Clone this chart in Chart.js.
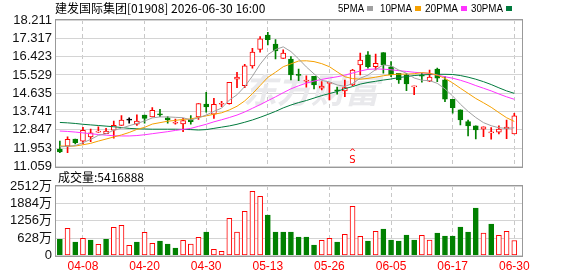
<!DOCTYPE html>
<html lang="zh-CN">
<head>
<meta charset="UTF-8">
<title>建发国际集团 日K</title>
<script src="https://cdn.jsdelivr.net/npm/chart.js@4.4.0/dist/chart.umd.min.js"></script>
<style>
  body { margin: 0; background: #fff; }
  #wrap { position: relative; width: 578px; height: 276px; }
  canvas { position: absolute; left: 0; }
</style>
</head>
<body>
<div id="wrap">
  <canvas id="kline" width="578" height="180" style="top:0"></canvas>
  <canvas id="vol" width="578" height="106" style="top:170px"></canvas>
</div>
<script>
// trading days shown
const dates = ['04-01','04-02','04-07','04-08','04-09','04-10','04-13','04-14','04-15','04-16',
  '04-17','04-20','04-21','04-22','04-23','04-24','04-27','04-28','04-29','04-30',
  '05-04','05-05','05-06','05-07','05-08','05-11','05-12','05-13','05-14','05-15',
  '05-18','05-19','05-20','05-21','05-22','05-26','05-27','05-28','05-29','06-01',
  '06-02','06-03','06-04','06-05','06-08','06-09','06-10','06-11','06-12','06-15',
  '06-16','06-17','06-18','06-22','06-23','06-24','06-25','06-26','06-29','06-30'];
const labelIdx = [3, 11, 19, 27, 35, 43, 51, 59];

const open  = [11.91,12.05,12.40,12.30,12.50,12.73,12.66,12.83,13.07,13.32,
  13.13,13.57,13.48,13.61,13.44,13.17,13.14,13.36,13.48,14.11,
  13.61,14.10,14.13,15.32,15.01,15.97,16.78,17.48,17.04,16.33,
  16.30,15.56,15.22,15.46,14.88,15.12,14.78,14.75,15.04,16.02,
  16.51,15.93,16.62,15.93,15.61,15.53,14.95,15.50,15.22,15.82,
  15.29,14.34,13.82,13.25,13.04,12.88,12.70,12.74,12.90,12.65];
const high  = [12.30,12.51,12.40,12.97,12.88,13.00,12.92,13.28,13.54,13.44,
  13.58,13.57,13.93,13.85,13.49,13.37,13.41,13.54,14.13,14.68,
  14.39,14.24,15.17,15.66,16.05,16.83,17.40,17.61,17.25,16.75,
  16.42,15.81,15.48,15.46,15.20,15.15,14.94,15.28,15.80,16.59,
  16.67,16.55,16.62,16.18,15.61,15.61,14.99,15.61,15.77,15.86,
  15.45,14.34,13.82,13.33,13.04,13.00,12.96,13.04,13.33,13.66];
const low   = [11.73,11.73,12.16,12.16,12.27,12.72,12.66,12.44,13.07,13.17,
  13.06,13.17,13.48,13.49,13.17,13.13,12.76,13.12,13.36,13.71,
  13.41,13.98,14.10,14.91,14.91,15.86,16.64,16.99,16.31,16.33,
  15.29,15.25,14.93,14.85,14.80,14.31,14.59,14.47,15.00,15.53,
  15.86,15.77,15.61,15.45,15.12,14.76,14.57,15.17,15.20,15.20,
  14.22,13.66,13.09,12.55,12.40,12.51,12.39,12.65,12.42,12.65];
const close = [11.77,12.39,12.22,12.83,12.70,12.79,12.79,13.07,13.32,13.32,
  13.28,13.41,13.80,13.58,13.33,13.20,13.30,13.25,14.13,13.97,
  14.10,14.12,15.17,15.42,15.97,16.65,17.29,17.25,16.70,16.59,
  15.53,15.50,15.26,15.04,14.99,15.15,14.75,14.91,15.77,16.26,
  15.93,16.10,16.02,15.53,15.29,15.09,14.97,15.47,15.42,15.37,
  14.34,13.93,13.33,13.04,12.84,13.00,12.72,12.88,12.98,13.53];

const ma5  = [12.02,12.04,12.08,12.22,12.38,12.58,12.66,12.83,12.93,13.05,
  13.16,13.28,13.43,13.48,13.48,13.46,13.44,13.33,13.44,13.57,
  13.75,13.91,14.30,14.56,14.96,15.47,16.05,16.52,16.77,16.90,
  16.67,16.31,15.92,15.58,15.26,15.19,15.04,14.97,15.11,15.37,
  15.52,15.79,16.02,15.97,15.77,15.61,15.38,15.27,15.25,15.12,
  14.85,14.50,14.10,13.75,13.45,13.20,13.05,12.95,12.92,12.95];
const ma10 = [12.06,12.05,12.06,12.12,12.19,12.30,12.40,12.50,12.60,12.72,
  12.87,12.97,13.13,13.20,13.27,13.31,13.36,13.38,13.46,13.53,
  13.61,13.68,13.82,14.00,14.26,14.61,15.01,15.41,15.66,15.93,
  16.07,16.21,16.22,16.18,16.08,15.93,15.68,15.44,15.35,15.32,
  15.36,15.42,15.49,15.54,15.57,15.57,15.59,15.64,15.61,15.52,
  15.36,15.14,14.88,14.63,14.38,14.17,13.95,13.69,13.44,13.26];
const ma20 = [12.79,12.77,12.74,12.70,12.66,12.62,12.59,12.56,12.55,12.55,
  12.57,12.61,12.66,12.71,12.76,12.82,12.87,12.92,13.02,13.12,
  13.24,13.34,13.45,13.57,13.72,13.90,14.08,14.27,14.46,14.66,
  14.85,15.00,15.13,15.23,15.31,15.38,15.44,15.52,15.62,15.72,
  15.80,15.82,15.81,15.78,15.74,15.70,15.66,15.63,15.60,15.52,
  15.44,15.37,15.27,15.15,15.01,14.88,14.75,14.60,14.46,14.34];
const ma30 = [13.21,13.19,13.16,13.12,13.09,13.06,13.03,13.00,12.96,12.92,
  12.90,12.89,12.88,12.88,12.88,12.88,12.87,12.86,12.84,12.86,
  12.92,12.98,13.04,13.12,13.22,13.33,13.46,13.60,13.75,13.92,
  14.06,14.18,14.28,14.40,14.52,14.62,14.72,14.86,14.96,15.08,
  15.16,15.22,15.28,15.33,15.40,15.45,15.50,15.53,15.55,15.56,
  15.56,15.55,15.50,15.42,15.32,15.20,15.06,14.90,14.75,14.63];

// volume in 万 shares, and whether the bar is drawn red (1) or green (0)
const volume = [586,983,488,622,560,405,586,1019,1092,369,
  488,839,441,524,416,271,549,416,658,850,
  224,152,1345,850,1598,2321,2140,1464,850,850,
  850,669,669,380,549,622,488,766,1779,694,
  524,875,958,560,524,741,560,730,560,813,
  705,705,1030,850,1717,813,1139,730,875,541.6888];
const volUp = [0,1,0,1,0,1,0,1,1,1, 0,1,1,0,0,0,1,1,1,0,
  1,1,1,1,1,1,1,0,0,0, 0,0,0,0,1,1,0,1,1,1,
  0,1,0,0,0,0,0,1,1,0, 0,0,0,0,0,1,0,1,1,1];

const priceTicks = [11.059,11.953,12.847,13.741,14.635,15.529,16.423,17.317,18.211];
const volTicks = [0,628,1256,1884,2512];
const maNames = ['5PMA','10PMA','20PMA','30PMA'];
const maColors = ['#a0a0a0','#f5a000','#ff33ff','#007a3d'];
const markIdx = 38;

const RED = '#ff0000', GREEN = '#008000';

function candleColor(i) {
  if (close[i] > open[i]) return RED;
  if (close[i] < open[i]) return GREEN;
  if (i > 0 && close[i] > close[i - 1]) return RED;
  if (i > 0 && close[i] < close[i - 1]) return GREEN;
  return '#000';
}

const frame = {
  id: 'frame',
  afterDraw(chart) {
    const { ctx, chartArea: a } = chart;
    ctx.save();
    ctx.strokeStyle = '#999';
    ctx.lineWidth = 1;
    ctx.strokeRect(Math.round(a.left) - 0.5, Math.round(a.top) - 0.5,
      Math.round(a.right - a.left) + 1, Math.round(a.bottom - a.top) + 1);
    ctx.restore();
  }
};

const klineText = {
  id: 'klineText',
  beforeDatasetsDraw(chart) {
    const ctx = chart.ctx;
    ctx.save();
    ctx.fillStyle = '#e9e9ec';
    ctx.font = 'italic bold 34px "Noto Sans CJK SC"';
    ctx.textBaseline = 'middle';
    ctx.fillText('东方财富', 243, 90);
    ctx.restore();
  },
  afterDraw(chart) {
    const ctx = chart.ctx;
    ctx.save();
    ctx.textBaseline = 'middle';
    ctx.fillStyle = '#000';
    ctx.font = '12px "Noto Sans CJK SC"';
    ctx.fillText('建发国际集团[01908] 2026-06-30 16:00', 55, 8);
    // legend: text start and colour square positions
    const lx = [338, 380, 425, 471];
    const sx = [367, 415, 461, 506];
    ctx.font = '11px "Liberation Sans"';
    maNames.forEach((n, k) => {
      ctx.fillStyle = '#000';
      ctx.fillText(n, lx[k], 9, sx[k] - lx[k] - 3);
      ctx.fillStyle = maColors[k];
      ctx.fillRect(sx[k], 6, 6, 5);
    });
    // red marker under a candle
    const x = chart.scales.x.getPixelForValue(markIdx);
    ctx.fillStyle = RED;
    ctx.textAlign = 'center';
    ctx.font = '9px "DejaVu Sans"';
    ctx.fillText('^', x, 153);
    ctx.font = '10px "DejaVu Sans"';
    ctx.fillText('S', x, 160);
    ctx.restore();
  }
};

const volText = {
  id: 'volText',
  afterDraw(chart) {
    const ctx = chart.ctx;
    ctx.save();
    ctx.textBaseline = 'middle';
    ctx.fillStyle = '#000';
    ctx.font = '12px "Noto Sans CJK SC"';
    ctx.fillText('成交量:' + Math.round(volume[volume.length - 1] * 10000), 58, 7);
    ctx.restore();
  }
};

const xLinear = (showLabels) => ({
  type: 'linear', min: -0.5, max: 60, offset: false,
  afterBuildTicks: s => { s.ticks = labelIdx.map(v => ({ value: v })); },
  afterFit: s => { s.height = showLabels ? 20.5 : 0; },
  ticks: {
    display: showLabels, autoSkip: false, maxRotation: 0, padding: 4,
    color: RED, font: { family: 'Liberation Sans', size: 12 },
    callback: v => dates[v]
  },
  grid: { color: '#c8c8c8', drawTicks: false, offset: false },
  border: { display: false, dash: [4, 3] }
});

const yTicks = (list, fmt) => ({
  afterBuildTicks: s => { s.ticks = list.map(v => ({ value: v })); },
  afterFit: s => { s.width = 56; },
  ticks: { autoSkip: false, padding: 4, color: '#111', font: { family: 'Liberation Sans', size: 13 }, callback: fmt },
  grid: { color: '#d4d4d4', drawTicks: false },
  border: { display: false }
});

const maSets = [ma5, ma10, ma20, ma30].map((arr, k) => ({
  type: 'line', label: maNames[k],
  data: arr.map((v, i) => ({ x: i, y: v })),
  borderColor: maColors[k], borderWidth: 1, pointRadius: 0, tension: 0, order: 1
}));

new Chart(document.getElementById('kline'), {
  type: 'bar',
  data: {
    datasets: [
      ...maSets,
      {
        label: 'body',
        data: open.map((o, i) => ({ x: i, y: [o, close[i]] })),
        backgroundColor: c => close[c.dataIndex] > open[c.dataIndex] ? '#fff' : candleColor(c.dataIndex),
        borderColor: c => candleColor(c.dataIndex),
        borderWidth: 1, borderSkipped: false, barThickness: 5, minBarLength: 1,
        grouped: false, order: 5
      },
      {
        label: 'wick',
        data: low.map((l, i) => ({ x: i, y: [l, high[i]] })),
        backgroundColor: c => candleColor(c.dataIndex),
        borderWidth: 0, barThickness: 1, grouped: false, order: 6
      }
    ]
  },
  options: {
    responsive: false, animation: false, devicePixelRatio: 1,
    layout: { padding: { left: 0, right: 56, top: 20, bottom: 13.5 } },
    plugins: { legend: { display: false }, tooltip: { enabled: false } },
    scales: {
      x: xLinear(false),
      y: { min: 11.059, max: 18.211, ...yTicks(priceTicks, v => v.toFixed(3)) }
    }
  },
  plugins: [klineText, frame]
});

new Chart(document.getElementById('vol'), {
  type: 'bar',
  data: {
    datasets: [{
      label: '成交量',
      data: volume.map((v, i) => ({ x: i, y: v })),
      backgroundColor: c => volUp[c.dataIndex] ? '#fff' : GREEN,
      borderColor: c => volUp[c.dataIndex] ? RED : GREEN,
      borderWidth: 1, borderSkipped: false, barThickness: 5
    }]
  },
  options: {
    responsive: false, animation: false, devicePixelRatio: 1,
    layout: { padding: { left: 0, right: 56, top: 16, bottom: 0 } },
    plugins: { legend: { display: false }, tooltip: { enabled: false } },
    scales: {
      x: xLinear(true),
      y: { min: 0, max: 2512, ...yTicks(volTicks, v => v === 0 ? '0' : v + '万') }
    }
  },
  plugins: [volText, frame]
});
</script>
</body>
</html>
